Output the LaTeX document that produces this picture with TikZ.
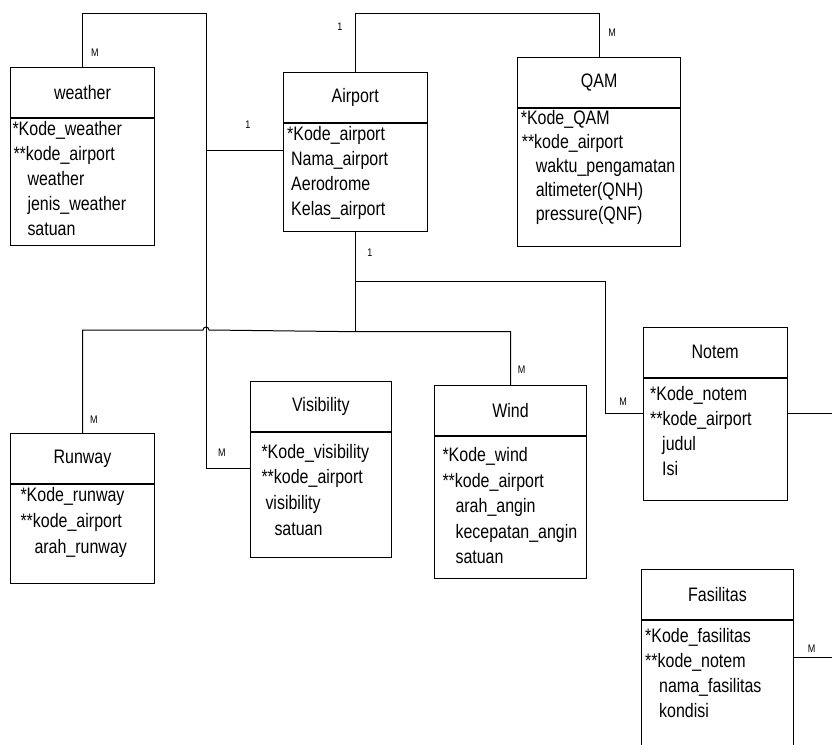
\documentclass[tikz,border=0pt]{standalone}
\usepackage{fontspec}
\setmainfont{Liberation Sans}[FakeStretch=0.82]
\usetikzlibrary{positioning}

\tikzset{
  entity/.style={draw, line width=1pt, minimum height=50pt, inner sep=0pt, font=\fontsize{19.5}{25}\selectfont},
  attrbox/.style={draw, line width=1pt, inner sep=0pt},
  card/.style={font=\fontsize{11}{13}\selectfont, inner sep=0pt},
  link/.style={line width=1pt},
}
\newcommand{\attrs}[5][25pt]{\begin{minipage}[t][#2][t]{#3}\fontsize{19.5}{#1}\selectfont\rule{0pt}{#4}#5\end{minipage}}

\begin{document}
\begin{tikzpicture}[x=1pt, y=-1pt]
        \useasboundingbox (0,0) rectangle (832,744);
        \clip (0,0) rectangle (832,744);

        % entities
        \node[entity, anchor=north west, minimum width=144pt] (weatherT) at (10,67) {weather};
        \node[attrbox, below=0pt of weatherT] (weatherB) {\attrs{127pt}{144pt}{17pt}{\hspace*{2pt}*Kode\_weather\\\hspace*{3pt}**kode\_airport\\\hspace*{17pt}weather\\\hspace*{17pt}jenis\_weather\\\hspace*{17pt}satuan}};

        \node[entity, anchor=north west, minimum width=144pt] (airportT) at (282.7,71.7) {Airport};
        \node[attrbox, below=0pt of airportT] (airportB) {\attrs{108pt}{144pt}{17.5pt}{\hspace*{4pt}*Kode\_airport\\\hspace*{8pt}Nama\_airport\\\hspace*{8pt}Aerodrome\\\hspace*{8pt}Kelas\_airport}};

        \node[entity, anchor=north west, minimum width=162.7pt] (qamT) at (517.3,56.7) {QAM};
        \node[attrbox, below=0pt of qamT] (qamB) {\attrs[24pt]{138pt}{162.7pt}{16.5pt}{\hspace*{3pt}*Kode\_QAM\\\hspace*{4pt}**kode\_airport\\\hspace*{18pt}waktu\_pengamatan\\\hspace*{18pt}altimeter(QNH)\\\hspace*{18pt}pressure(QNF)}};

        \node[entity, anchor=north west, minimum width=144pt] (runT) at (10,433) {Runway};
        \node[attrbox, below=0pt of runT] (runB) {\attrs[26pt]{99pt}{144pt}{17pt}{\hspace*{10pt}*Kode\_runway\\\hspace*{10pt}**kode\_airport\\\hspace*{24pt}arah\_runway}};

        \node[entity, anchor=north west, minimum width=140.7pt] (visT) at (250,380.7) {Visibility};
        \node[attrbox, below=0pt of visT] (visB) {\attrs[25.7pt]{125pt}{140.7pt}{26pt}{\hspace*{11pt}*Kode\_visibility\\\hspace*{11pt}**kode\_airport\\\hspace*{15pt}visibility\\\hspace*{24pt}satuan}};

        \node[entity, anchor=north west, minimum width=152pt] (windT) at (434,385.3) {Wind};
        \node[attrbox, below=0pt of windT] (windB) {\attrs[25.5pt]{142pt}{152pt}{25pt}{\hspace*{8pt}*Kode\_wind\\\hspace*{8pt}**kode\_airport\\\hspace*{21pt}arah\_angin\\\hspace*{21pt}kecepatan\_angin\\\hspace*{21pt}satuan}};

        \node[entity, anchor=north west, minimum width=144pt] (notemT) at (642.7,326.7) {Notem};
        \node[attrbox, below=0pt of notemT] (notemB) {\attrs{122.6pt}{144pt}{22pt}{\hspace*{7pt}*Kode\_notem\\\hspace*{7pt}**kode\_airport\\\hspace*{19pt}judul\\\hspace*{19pt}Isi}};

        \node[entity, anchor=north west, minimum width=152.6pt] (fasT) at (640.7,569.3) {Fasilitas};
        \node[attrbox, below=0pt of fasT] (fasB) {\attrs{140pt}{152.6pt}{22pt}{\hspace*{4pt}*Kode\_fasilitas\\\hspace*{4pt}**kode\_notem\\\hspace*{18pt}nama\_fasilitas\\\hspace*{18pt}kondisi}};

        % junctions
        \coordinate (jTop) at (206,13);
        \coordinate (jW) at (206,150);
        \coordinate (jV) at (206,468);
        \path (airportB.south) ++(0,50) coordinate (jS) ++(0,50) coordinate (jB);
        \coordinate (jN) at (605,413.3);
        \coordinate (jR) at (850,413.3);
        \coordinate (jR2) at (850,657.7);

        % relations
        \draw[link] (weatherT.north) |- (jTop) -- (jW) -- (jW -| airportB.west);
        \draw[link] (jW) -- (jV) -- (jV -| visB.west);
        \draw[link] (airportT.north) |- (qamT.north |- jTop) -- (qamT.north);
        \draw[link] (airportB.south) -- (jB);
        \draw[link] (jS) -| (jN) -- (jN -| notemB.west);
        \draw[link] (runT.north) |- (203,330) arc[start angle=180, end angle=0, radius=3pt] -- (jB) -| (windT.north);
        \draw[link] (jN -| notemB.east) -- (jR) -- (jR2) -- (jR2 -| fasB.east);

        % cardinalities
        \node[card] (mWeather) at (95,53) {M};
        \node[card] (oneTop) at (340,27) {1};
        \node[card] (mQam) at (612,33) {M};
        \node[card] (oneLeft) at (248,125) {1};
        \node[card] (oneBottom) at (370,253) {1};
        \node[card] (mRun) at (94,420) {M};
        \node[card] (mVis) at (222,452.7) {M};
        \node[card] (mWind) at (521.7,370) {M};
        \node[card] (mNotem) at (623,401.7) {M};
        \node[card] (mFas) at (811.7,649) {M};

    \end{tikzpicture}
\end{document}
